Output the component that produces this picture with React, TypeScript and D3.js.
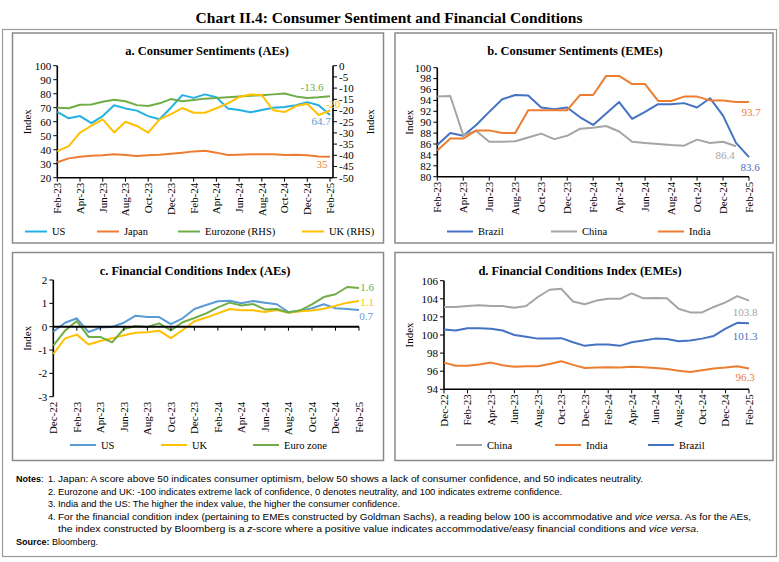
import * as d3 from 'd3'

// months (panels a, b: Feb-23 to Feb-25; panels c, d: Dec-22 to Feb-25)
const monthsA = [
  'Feb-23', 'Mar-23', 'Apr-23', 'May-23', 'Jun-23', 'Jul-23', 'Aug-23', 'Sep-23', 'Oct-23', 'Nov-23',
  'Dec-23', 'Jan-24', 'Feb-24', 'Mar-24', 'Apr-24', 'May-24', 'Jun-24', 'Jul-24', 'Aug-24', 'Sep-24',
  'Oct-24', 'Nov-24', 'Dec-24', 'Jan-25', 'Feb-25',
]
const monthsC = ['Dec-22', 'Jan-23', ...monthsA]

// a. Consumer sentiments (AEs)
const usSent = [67, 62.4, 64, 59, 64, 71.7, 69.5, 67.9, 64, 61.7, 70, 79, 77, 79.5, 77.4, 69.5, 68.3, 66.7, 68.3, 70, 70.5, 71.8, 74, 71.8, 64.7]
const japanSent = [31, 33.8, 35, 35.7, 36, 36.7, 36.2, 35.5, 36, 36.4, 37.1, 37.9, 38.8, 39.3, 37.9, 36.2, 36.4, 36.7, 36.7, 36.7, 36.2, 36.4, 36, 35.2, 35]
const euroSent = [-18.8, -19, -17.4, -17.3, -16.1, -15.2, -15.9, -17.6, -18, -16.8, -14.9, -15.9, -15.3, -14.7, -14.4, -14.1, -13.8, -13.4, -13.2, -12.8, -12.4, -13.7, -14.4, -14.1, -13.6]
const ukSent = [-38.1, -35.9, -29.9, -26.8, -24, -29.8, -25, -26.9, -29.9, -24, -21.6, -18.9, -21, -21, -19, -16.8, -14, -12.9, -13.1, -19.9, -20.7, -18, -17, -22, -20]

// b. Consumer sentiments (EMEs)
const brazilSent = [85.8, 88, 87.5, 89.5, 91.9, 94.2, 95, 94.9, 92.7, 92.4, 92.7, 90.9, 89.5, 91.6, 93.7, 90.6, 91.9, 93.3, 93.3, 93.5, 92.7, 94.4, 91.2, 86.2, 83.6]
const chinaSent = [94.7, 94.8, 87.6, 88.4, 86.4, 86.4, 86.5, 87.2, 87.9, 86.9, 87.5, 88.8, 89, 89.3, 88.3, 86.4, 86.2, 86, 85.8, 85.7, 86.8, 86.2, 86.4, 85.6]
const indiaSent = [84.8, 87, 87, 88.5, 88.5, 88, 88, 92.2, 92.2, 92.2, 92.2, 95, 95, 98.5, 98.5, 97, 97, 93.9, 93.9, 94.7, 94.7, 94, 94, 93.7, 93.7]

// c. Financial conditions index (AEs)
const usFci = [-0.21, 0.17, 0.36, -0.23, -0.04, -0.01, 0.17, 0.47, 0.41, 0.41, 0.11, 0.36, 0.76, 0.93, 1.09, 1.11, 1.0, 1.1, 1.03, 0.96, 0.63, 0.67, 0.79, 0.96, 0.79, 0.76, 0.71]
const ukFci = [-1.17, -0.5, -0.34, -0.76, -0.61, -0.5, -0.37, -0.26, -0.24, -0.17, -0.49, -0.14, 0.23, 0.39, 0.57, 0.76, 0.7, 0.7, 0.63, 0.71, 0.6, 0.66, 0.69, 0.77, 0.89, 1.03, 1.1]
const euroFci = [-0.81, -0.17, 0.24, -0.44, -0.44, -0.67, -0.1, 0.03, -0.01, 0.14, -0.16, 0.19, 0.37, 0.57, 0.83, 1.03, 0.91, 0.97, 0.74, 0.76, 0.61, 0.7, 0.96, 1.27, 1.39, 1.7, 1.66]

// d. Financial conditions index (EMEs)
const chinaFci = [103.1, 103.1, 103.2, 103.3, 103.2, 103.2, 103.0, 103.2, 104.2, 105.0, 105.1, 103.7, 103.4, 103.8, 104.0, 104.0, 104.6, 104.05, 104.1, 104.05, 102.9, 102.5, 102.5, 103.1, 103.6, 104.3, 103.8]
const indiaFci = [96.95, 96.6, 96.6, 96.75, 96.95, 96.65, 96.5, 96.55, 96.55, 96.8, 97.1, 96.7, 96.35, 96.4, 96.45, 96.4, 96.5, 96.45, 96.35, 96.25, 96.05, 95.9, 96.1, 96.3, 96.4, 96.55, 96.3]
const brazilFci = [100.6, 100.5, 100.75, 100.75, 100.7, 100.5, 100.0, 99.8, 99.6, 99.6, 99.65, 99.2, 98.8, 98.95, 98.95, 98.8, 99.2, 99.4, 99.6, 99.55, 99.3, 99.4, 99.6, 99.9, 100.7, 101.35, 101.3]

const ticksA = [20, 30, 40, 50, 60, 70, 80, 90, 100]
const ticksA2 = [-50, -45, -40, -35, -30, -25, -20, -15, -10, -5, 0]
const ticksB = [80, 82, 84, 86, 88, 90, 92, 94, 96, 98, 100]
const ticksC = [-3, -2, -1, 0, 1, 2]
const ticksD = [94, 96, 98, 100, 102, 104, 106]

const SERIF = "'Liberation Serif', 'Times New Roman', serif"
const NARROW = "'Liberation Sans Narrow', 'Liberation Sans', sans-serif"

interface LineSpec {
  name: string
  values: number[]
  color: string
  right?: boolean
  legendX: number
  label: string
  labelColor?: string
  dx: number
  dy: number
}

interface PanelProps {
  title: string
  titleX: number
  box: { x: number; y: number; w: number; h: number }
  plot: { left: number; right: number; top: number; bottom: number }
  months: string[]
  yDomain: [number, number]
  yTicks: number[]
  y2Domain?: [number, number]
  y2Ticks?: number[]
  axisAtZero?: boolean
  lines: LineSpec[]
  legendY: number
  legendLen: number
  indexX: number
  index2X?: number
  y2AxisX?: number
}

function Panel(p: PanelProps) {
  const x = d3.scalePoint<string>().domain(p.months).range([p.plot.left, p.plot.right])
  const y = d3.scaleLinear().domain(p.yDomain).range([p.plot.bottom, p.plot.top])
  const y2 = p.y2Domain ? d3.scaleLinear().domain(p.y2Domain).range([p.plot.bottom, p.plot.top]) : null
  const xAxisY = p.axisAtZero ? y(0) : p.plot.bottom
  const tickMonths = p.months.filter((_, i) => i % 2 === 0)
  const midY = (p.plot.top + p.plot.bottom) / 2
  const r2x = p.y2AxisX ?? p.plot.right

  return (
    <g fontFamily={SERIF}>
      <rect x={p.box.x} y={p.box.y} width={p.box.w} height={p.box.h} fill="#fff" stroke="#8a8a8a" strokeWidth={1.5} />
      <text x={p.titleX} y={p.box.y + 22} textAnchor="middle" fontSize={12.5} fontWeight="bold">{p.title}</text>

      {/* left axis */}
      <line x1={p.plot.left} x2={p.plot.left} y1={p.plot.top} y2={p.plot.bottom} stroke="#000" strokeWidth={1.6} />
      {p.yTicks.map((t) => (
        <g key={`l${t}`}>
          <line x1={p.plot.left - 4} x2={p.plot.left} y1={y(t)} y2={y(t)} stroke="#000" strokeWidth={1} />
          <text x={p.plot.left - 6} y={y(t)} dy="0.35em" textAnchor="end" fontSize={11}>{t}</text>
        </g>
      ))}
      <text transform={`translate(${p.indexX},${midY}) rotate(-90)`} textAnchor="middle" dy="0.35em" fontSize={11}>Index</text>

      {/* right axis */}
      {y2 && p.y2Ticks && (
        <g>
          <line x1={r2x} x2={r2x} y1={p.plot.top} y2={p.plot.bottom} stroke="#000" strokeWidth={1.6} />
          {p.y2Ticks.map((t) => (
            <g key={`r${t}`}>
              <line x1={r2x} x2={r2x + 4} y1={y2(t)} y2={y2(t)} stroke="#000" strokeWidth={1} />
              <text x={r2x + 6} y={y2(t)} dy="0.35em" fontSize={11}>{t}</text>
            </g>
          ))}
          <text transform={`translate(${p.index2X},${midY}) rotate(-90)`} textAnchor="middle" dy="0.35em" fontSize={11}>Index</text>
        </g>
      )}

      {/* series */}
      {p.lines.map((s) => {
        const sc = s.right && y2 ? y2 : y
        const gen = d3.line<number>().x((_, i) => x(p.months[i]) ?? 0).y((d) => sc(d))
        return <path key={s.name} d={gen(s.values) ?? ''} fill="none" stroke={s.color} strokeWidth={2} strokeLinejoin="round" />
      })}

      {/* x axis */}
      <line x1={p.plot.left} x2={p.y2AxisX ?? p.plot.right} y1={xAxisY} y2={xAxisY} stroke="#000" strokeWidth={p.axisAtZero ? 2 : 1.6} />
      {tickMonths.map((m) => (
        <g key={m}>
          <line x1={x(m)} x2={x(m)} y1={xAxisY} y2={xAxisY + 4} stroke="#000" strokeWidth={1} />
          <text transform={`translate(${x(m)},${p.plot.bottom + 5}) rotate(-90)`} textAnchor="end" dy="0.35em" fontSize={11}>{m}</text>
        </g>
      ))}

      {/* end labels */}
      {p.lines.map((s) => {
        const sc = s.right && y2 ? y2 : y
        const n = s.values.length
        return (
          <text key={`lab${s.name}`} x={(x(p.months[n - 1]) ?? 0) + s.dx} y={sc(s.values[n - 1]) + s.dy} textAnchor="middle" fontSize={11} fill={s.labelColor ?? s.color}>
            {s.label}
          </text>
        )
      })}

      {/* legend */}
      {p.lines.map((s) => (
        <g key={`leg${s.name}`}>
          <line x1={s.legendX} x2={s.legendX + p.legendLen} y1={p.legendY} y2={p.legendY} stroke={s.color} strokeWidth={2} />
          <text x={s.legendX + p.legendLen + 5} y={p.legendY} dy="0.35em" fontSize={10.5}>{s.name}</text>
        </g>
      ))}
    </g>
  )
}

const notes = [
  { num: '1.', y: 482, end: 643, parts: [{ t: 'Japan: A score above 50 indicates consumer optimism, below 50 shows a lack of consumer confidence, and 50 indicates neutrality.' }] },
  { num: '2.', y: 494.5, end: 562, parts: [{ t: 'Eurozone and UK: -100 indicates extreme lack of confidence, 0 denotes neutrality, and 100 indicates extreme confidence.' }] },
  { num: '3.', y: 507, end: 400, parts: [{ t: 'India and the US: The higher the index value, the higher the consumer confidence.' }] },
  {
    num: '4.', y: 519.5, end: 751, parts: [
      { t: 'For the financial condition index (pertaining to EMEs constructed by Goldman Sachs), a reading below 100 is accommodative and ' },
      { t: 'vice versa', i: true },
      { t: '. As for the AEs,' },
    ],
  },
  {
    num: '', y: 532, end: 699, parts: [
      { t: 'the index constructed by Bloomberg is a ' },
      { t: 'z', i: true },
      { t: '-score where a positive value indicates accommodative/easy financial conditions and ' },
      { t: 'vice versa', i: true },
      { t: '.' },
    ],
  },
]

export default function App() {
  return (
    <svg width={779} height={562} style={{ display: 'block', position: 'absolute', left: 0, top: 0, background: '#fff' }}>
      <rect x={0} y={0} width={779} height={562} fill="#fff" />
      <text x={389} y={23} textAnchor="middle" fontFamily={SERIF} fontSize={15.5} fontWeight="bold">
        Chart II.4: Consumer Sentiment and Financial Conditions
      </text>
      <rect x={2.5} y={29.5} width={774} height={527} fill="none" stroke="#9a9a9a" strokeWidth={1.2} />

      <Panel
        title="a. Consumer Sentiments (AEs)"
        titleX={207}
        box={{ x: 12.5, y: 33, w: 371, h: 210 }}
        plot={{ left: 57.3, right: 330, top: 65.7, bottom: 177.7 }}
        y2AxisX={333}
        months={monthsA}
        yDomain={[20, 100]}
        yTicks={ticksA}
        y2Domain={[-50, 0]}
        y2Ticks={ticksA2}
        indexX={27}
        index2X={370}
        legendY={231.5}
        legendLen={22}
        lines={[
          { name: 'US', values: usSent, color: '#23b0e6', legendX: 25, label: '64.7', labelColor: '#5b9bd5', dx: -9, dy: 9.5 },
          { name: 'Japan', values: japanSent, color: '#ed7d31', legendX: 97, label: '35', dx: -8, dy: 11 },
          { name: 'Eurozone (RHS)', values: euroSent, color: '#70ad47', right: true, legendX: 178, label: '-13.6', dx: -18, dy: -5 },
          { name: 'UK (RHS)', values: ukSent, color: '#ffc000', right: true, legendX: 302, label: '-20', dx: 3, dy: -2.5 },
        ]}
      />

      <Panel
        title="b. Consumer Sentiments (EMEs)"
        titleX={575}
        box={{ x: 395, y: 33, w: 378, h: 210 }}
        plot={{ left: 437.3, right: 749, top: 67.7, bottom: 176.7 }}
        months={monthsA}
        yDomain={[80, 100]}
        yTicks={ticksB}
        indexX={408.7}
        legendY={231.5}
        legendLen={26}
        lines={[
          { name: 'Brazil', values: brazilSent, color: '#4472c4', legendX: 447, label: '83.6', dx: 1, dy: 13.5 },
          { name: 'China', values: chinaSent, color: '#a5a5a5', legendX: 551, label: '86.4', dx: -11, dy: 13 },
          { name: 'India', values: indiaSent, color: '#ed7d31', legendX: 658, label: '93.7', dx: 2, dy: 13.5 },
        ]}
      />

      <Panel
        title="c. Financial Conditions Index (AEs)"
        titleX={195}
        box={{ x: 12.5, y: 252.5, w: 371, h: 208 }}
        plot={{ left: 53.3, right: 359, top: 280, bottom: 396.7 }}
        months={monthsC}
        yDomain={[-3, 2]}
        yTicks={ticksC}
        axisAtZero
        indexX={26.7}
        legendY={445}
        legendLen={26}
        lines={[
          { name: 'US', values: usFci, color: '#5b9bd5', legendX: 70, label: '0.7', dx: 7, dy: 10 },
          { name: 'UK', values: ukFci, color: '#ffc000', legendX: 161, label: '1.1', dx: 8, dy: 4.5 },
          { name: 'Euro zone', values: euroFci, color: '#70ad47', legendX: 253, label: '1.6', dx: 8, dy: 3 },
        ]}
      />

      <Panel
        title="d. Financial Conditions Index (EMEs)"
        titleX={580}
        box={{ x: 395, y: 252.5, w: 378, h: 208 }}
        plot={{ left: 444, right: 749, top: 280.7, bottom: 389.3 }}
        months={monthsC}
        yDomain={[94, 106]}
        yTicks={ticksD}
        indexX={408.7}
        legendY={445}
        legendLen={26}
        lines={[
          { name: 'China', values: chinaFci, color: '#a5a5a5', legendX: 456, label: '103.8', dx: -4, dy: 15 },
          { name: 'India', values: indiaFci, color: '#ed7d31', legendX: 555, label: '96.3', dx: -4, dy: 12.5 },
          { name: 'Brazil', values: brazilFci, color: '#4472c4', legendX: 648, label: '101.3', dx: -4, dy: 17 },
        ]}
      />

      {/* notes */}
      <g fontFamily={NARROW} fontSize={9}>
        <text x={16} y={482} fontWeight="bold">Notes<tspan fontWeight="normal">:</tspan></text>
        {notes.map((n) => (
          <g key={n.y}>
            {n.num && <text x={48} y={n.y}>{n.num}</text>}
            <text x={58} y={n.y} textLength={n.end - 58} lengthAdjust="spacingAndGlyphs">
              {n.parts.map((pt, i) => (
                <tspan key={i} fontStyle={pt.i ? 'italic' : 'normal'}>{pt.t}</tspan>
              ))}
            </text>
          </g>
        ))}
        <text x={16} y={545}>
          <tspan fontWeight="bold">Source:</tspan> Bloomberg.
        </text>
      </g>
    </svg>
  )
}
